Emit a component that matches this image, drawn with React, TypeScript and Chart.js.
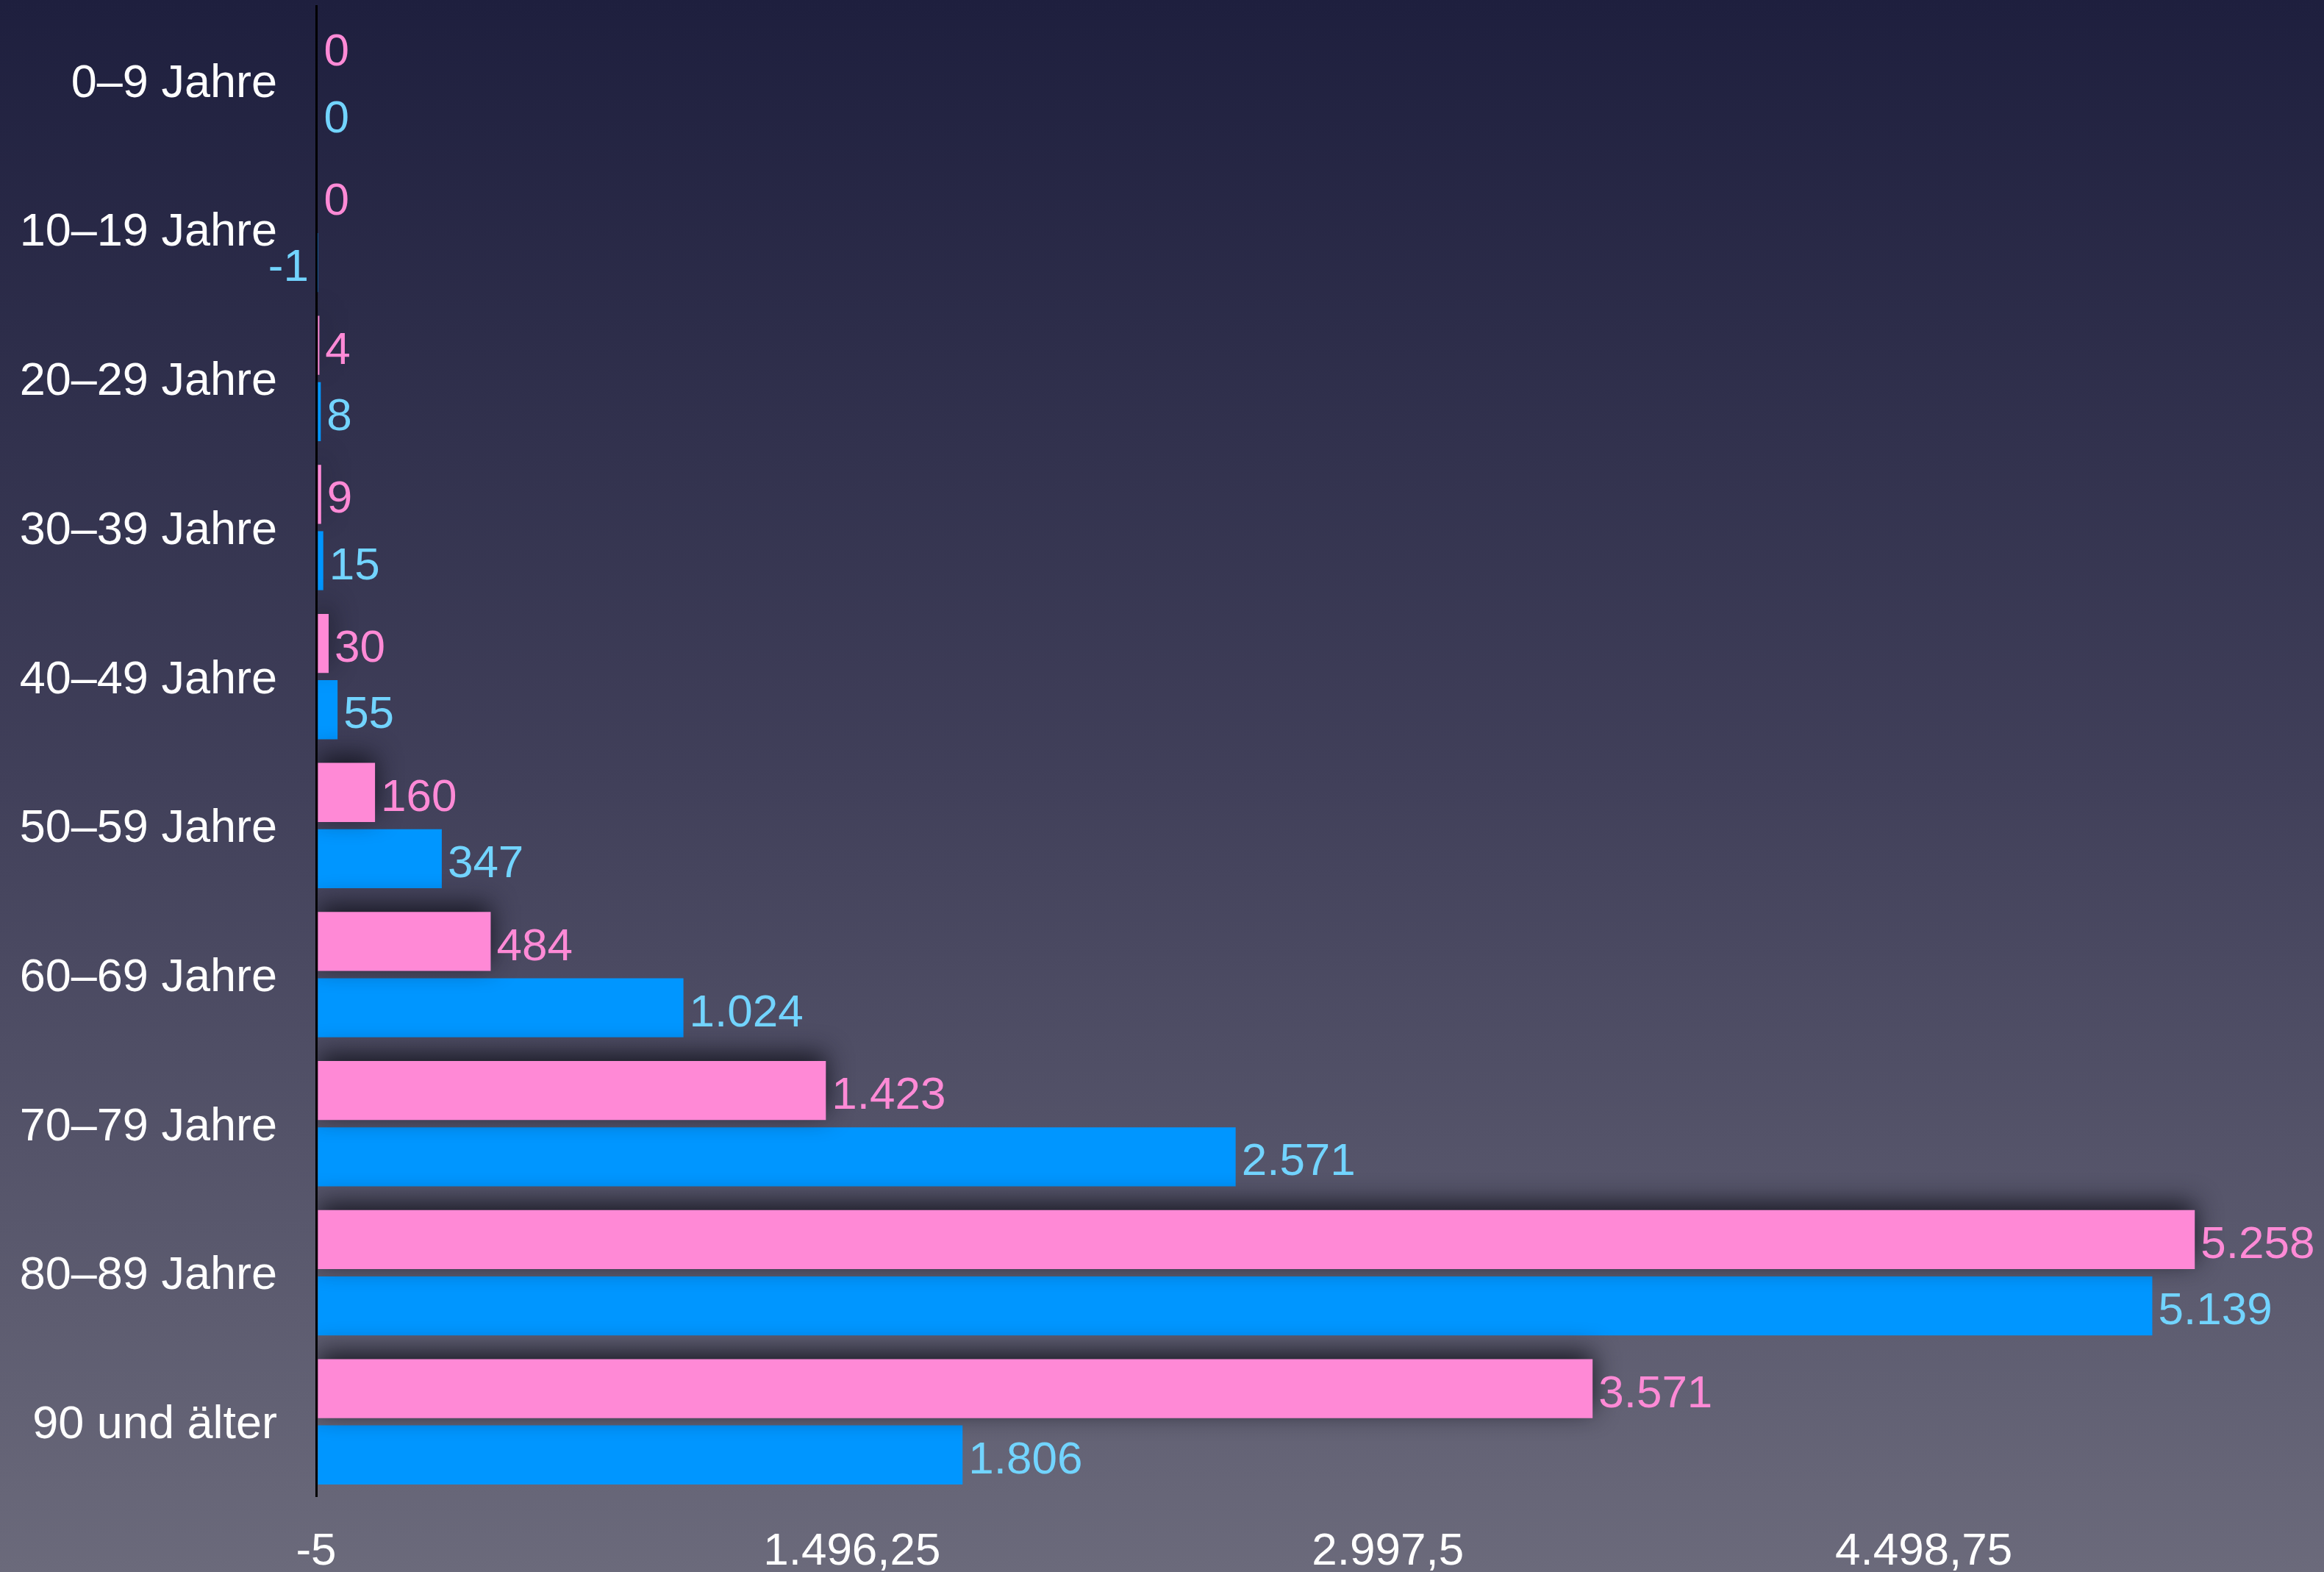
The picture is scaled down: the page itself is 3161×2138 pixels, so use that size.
import React, { useEffect, useRef } from "react";
import { Chart, registerables } from "chart.js";

Chart.register(...registerables);

const categories = [
  "0–9 Jahre",
  "10–19 Jahre",
  "20–29 Jahre",
  "30–39 Jahre",
  "40–49 Jahre",
  "50–59 Jahre",
  "60–69 Jahre",
  "70–79 Jahre",
  "80–89 Jahre",
  "90 und älter",
];
const femaleValues = [0, 0, 4, 9, 30, 160, 484, 1423, 5258, 3571];
const maleValues = [0, -1, 8, 15, 55, 347, 1024, 2571, 5139, 1806];
const xTickValues = [-5, 1496.25, 2997.5, 4498.75];
const xMin = -5;
const xMax = 5620;

const W = 3161;
const H = 2138;
const FONT = "'Liberation Sans', Arial, Helvetica, sans-serif";

function formatDE(v: number): string {
  const neg = v < 0;
  const abs = Math.abs(v);
  const intPart = Math.floor(abs + 1e-9);
  let frac = Math.round((abs - intPart) * 100);
  let fracStr = "";
  if (frac > 0) {
    fracStr = String(frac).padStart(2, "0").replace(/0+$/, "");
  }
  const intStr = String(intPart).replace(/\B(?=(\d{3})+(?!\d))/g, ".");
  return (neg ? "-" : "") + intStr + (fracStr ? "," + fracStr : "");
}

const bgPlugin = {
  id: "bgGradient",
  beforeDraw(chart: any) {
    const { ctx, width, height } = chart;
    const g = ctx.createLinearGradient(0, 0, 0, height);
    g.addColorStop(0, "#1e1f3e");
    g.addColorStop(0.5, "#41405a");
    g.addColorStop(1, "#6b6a7b");
    ctx.save();
    ctx.fillStyle = g;
    ctx.fillRect(0, 0, width, height);
    ctx.restore();
  },
};

const shadowPlugin = {
  id: "pinkShadow",
  beforeDatasetDraw(chart: any, args: any) {
    if (args.index === 0) {
      const ctx = chart.ctx;
      ctx.save();
      ctx.shadowColor = "rgba(18,18,28,0.9)";
      ctx.shadowBlur = 34;
      ctx.shadowOffsetX = 0;
      ctx.shadowOffsetY = -10;
    }
  },
  afterDatasetDraw(chart: any, args: any) {
    if (args.index === 0) {
      chart.ctx.restore();
    }
  },
};

const labelColors = ["#ff8ad6", "#72d4ff"];

const valueLabelPlugin = {
  id: "valueLabels",
  afterDatasetsDraw(chart: any) {
    const ctx = chart.ctx;
    ctx.save();
    ctx.font = `62px ${FONT}`;
    ctx.textBaseline = "middle";
    chart.data.datasets.forEach((ds: any, di: number) => {
      const meta = chart.getDatasetMeta(di);
      meta.data.forEach((bar: any, i: number) => {
        const v = ds.data[i];
        ctx.fillStyle = labelColors[di];
        const text = formatDE(v);
        if (v < 0) {
          ctx.textAlign = "right";
          ctx.fillText(text, bar.x - 12, bar.y + 8);
        } else {
          ctx.textAlign = "left";
          ctx.fillText(text, bar.x + 8, bar.y + 8);
        }
      });
    });
    ctx.restore();
  },
};

export default function App() {
  const ref = useRef<HTMLCanvasElement | null>(null);

  useEffect(() => {
    document.body.style.margin = "0";
    document.body.style.overflow = "hidden";
    const canvas = ref.current;
    if (!canvas) return;
    const chart = new Chart(canvas, {
      type: "bar",
      data: {
        labels: categories,
        datasets: [
          {
            label: "Frauen",
            data: femaleValues,
            backgroundColor: "#ff89d6",
            borderWidth: 0,
            categoryPercentage: 0.89,
            barPercentage: 0.89,
          },
          {
            label: "Männer",
            data: maleValues,
            backgroundColor: "#0096ff",
            borderWidth: 0,
            categoryPercentage: 0.89,
            barPercentage: 0.89,
          },
        ],
      },
      options: {
        indexAxis: "y",
        responsive: false,
        animation: false,
        devicePixelRatio: 1,
        layout: { padding: { top: 8, right: 0, left: 0, bottom: 0 } },
        plugins: {
          legend: { display: false },
          tooltip: { enabled: false },
        },
        scales: {
          x: {
            type: "linear",
            min: xMin,
            max: xMax,
            grid: { display: false, drawTicks: false },
            border: { display: false },
            afterBuildTicks(scale: any) {
              scale.ticks = xTickValues.map((v) => ({ value: v }));
            },
            afterFit(scale: any) {
              scale.height = 103;
              scale.paddingLeft = 0;
              scale.paddingRight = 0;
            },
            ticks: {
              color: "#ffffff",
              padding: 39,
              maxRotation: 0,
              autoSkip: false,
              font: { family: FONT, size: 62, lineHeight: 1.2 },
              callback: (v: any) => formatDE(Number(v)),
            },
          },
          y: {
            grid: { display: false, drawTicks: false },
            border: { display: true, color: "#000000", width: 3 },
            afterFit(scale: any) {
              scale.width = 430;
              scale.paddingTop = 0;
              scale.paddingBottom = 0;
            },
            ticks: {
              color: "#ffffff",
              padding: 53,
              labelOffset: 5,
              autoSkip: false,
              font: { family: FONT, size: 63, lineHeight: 1.2 },
            },
          },
        },
      },
      plugins: [bgPlugin, shadowPlugin, valueLabelPlugin],
    } as any);
    return () => chart.destroy();
  }, []);

  return (
    <div style={{ width: W, height: H }}>
      <canvas ref={ref} width={W} height={H} style={{ display: "block", width: W, height: H }} />
    </div>
  );
}
